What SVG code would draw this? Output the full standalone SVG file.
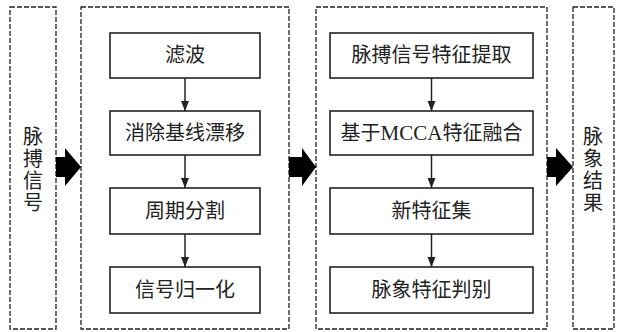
<svg xmlns="http://www.w3.org/2000/svg" width="622" height="332" viewBox="0 0 622 332">
<style>
.dash{fill:#fff;stroke:#222;stroke-width:1.3;stroke-dasharray:5 2}
.box{fill:#fff;stroke:#222;stroke-width:1.6}
.t{font-family:"Noto Sans CJK SC","Liberation Sans",sans-serif;font-size:20px;fill:#222;text-anchor:middle}
.v{writing-mode:vertical-rl;letter-spacing:2px}
.en{font-family:"Liberation Serif",serif}
.ln{stroke:#222;stroke-width:1.5;fill:none}
.big{fill:#000}
</style>
<defs>
<marker id="ah" markerWidth="10" markerHeight="12" refX="10" refY="6" orient="auto" markerUnits="userSpaceOnUse">
<path d="M0,2 L10,6 L0,10 Z" fill="#222"/>
</marker>
</defs>
<g id="input">
<rect class="dash" x="10" y="7" width="46" height="322"/>
<text class="t v" x="33" y="170">脉搏信号</text>
</g>
<g id="preprocess">
<rect class="dash" x="81" y="7" width="208" height="322"/>
</g>
<g id="feature">
<rect class="dash" x="316" y="7" width="231" height="322"/>
</g>
<g id="output">
<rect class="dash" x="573" y="7" width="41" height="322"/>
<text class="t v" x="593" y="170">脉象结果</text>
</g>
<g id="n1"><rect class="box" x="110" y="33" width="150" height="45"/><text class="t" x="185" y="62">滤波</text></g>
<g id="n2"><rect class="box" x="110" y="111" width="150" height="44"/><text class="t" x="185" y="140">消除基线漂移</text></g>
<g id="n3"><rect class="box" x="110" y="188" width="150" height="46"/><text class="t" x="185" y="218">周期分割</text></g>
<g id="n4"><rect class="box" x="110" y="267" width="150" height="46"/><text class="t" x="185" y="297">信号归一化</text></g>
<g id="n5"><rect class="box" x="330" y="33" width="203" height="45"/><text class="t" x="431.5" y="62">脉搏信号特征提取</text></g>
<g id="n6"><rect class="box" x="330" y="111" width="203" height="44"/><text class="t" x="431.5" y="140">基于<tspan class="en" font-size="21">MCCA</tspan>特征融合</text></g>
<g id="n7"><rect class="box" x="330" y="188" width="203" height="46"/><text class="t" x="431.5" y="218">新特征集</text></g>
<g id="n8"><rect class="box" x="330" y="267" width="203" height="46"/><text class="t" x="431.5" y="297">脉象特征判别</text></g>
<g id="connectors">
<line class="ln" x1="185" y1="78" x2="185" y2="111" marker-end="url(#ah)"/>
<line class="ln" x1="185" y1="155" x2="185" y2="188" marker-end="url(#ah)"/>
<line class="ln" x1="185" y1="234" x2="185" y2="267" marker-end="url(#ah)"/>
<line class="ln" x1="431.5" y1="78" x2="431.5" y2="111" marker-end="url(#ah)"/>
<line class="ln" x1="431.5" y1="155" x2="431.5" y2="188" marker-end="url(#ah)"/>
<line class="ln" x1="431.5" y1="234" x2="431.5" y2="267" marker-end="url(#ah)"/>
<path class="big" d="M56,157 L65,157 L65,148 L81,167 L65,186 L65,177 L56,177 Z"/>
<path class="big" d="M289,157 L302,157 L302,148 L316,167 L302,186 L302,177 L289,177 Z"/>
<path class="big" d="M547,157 L556,157 L556,148 L573,167 L556,186 L556,177 L547,177 Z"/>
</g>
</svg>
